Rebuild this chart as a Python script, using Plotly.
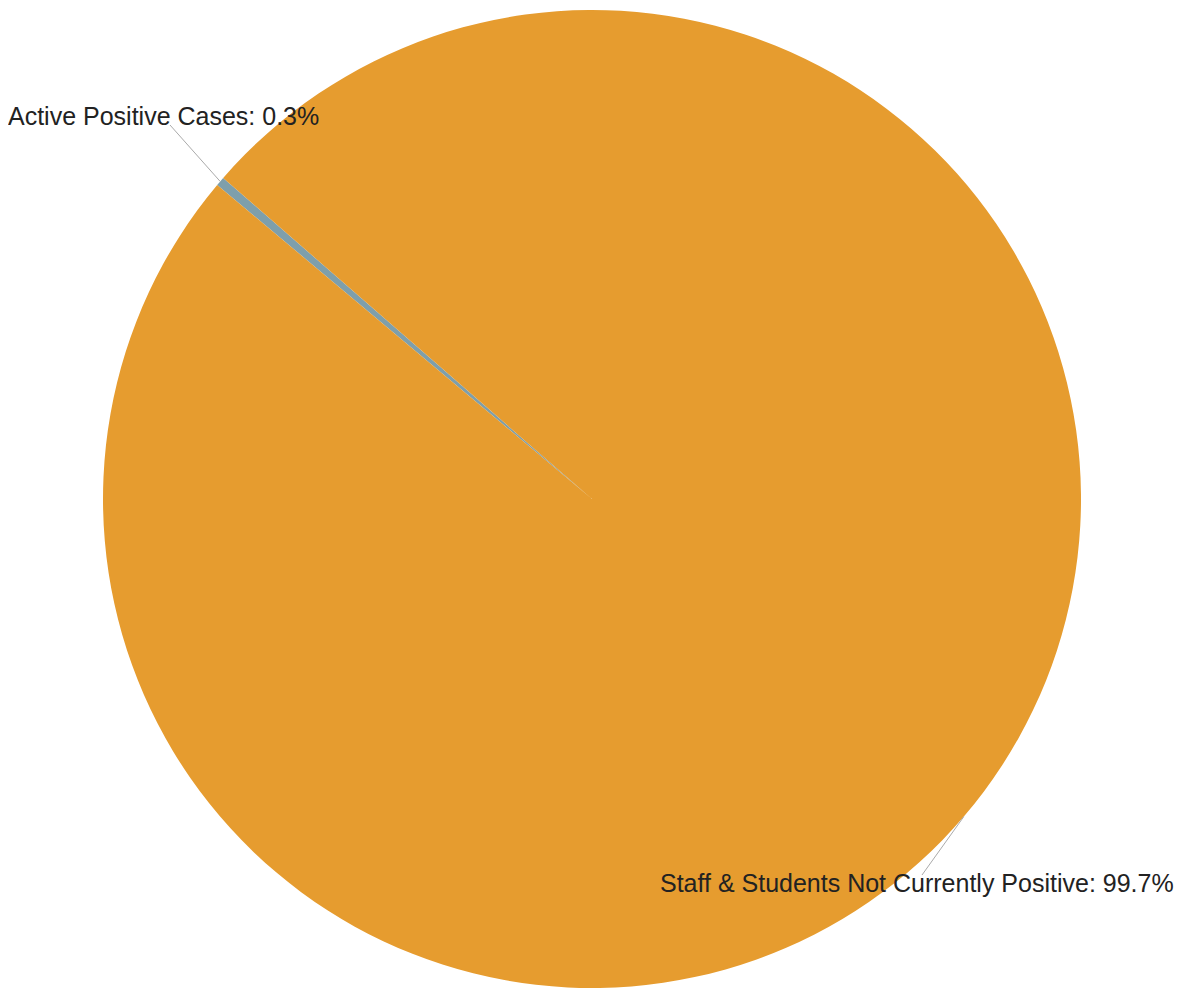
import math
import plotly.graph_objects as go

# ---- data ----
labels = ["Active Positive Cases", "Staff & Students Not Currently Positive"]
values = [0.3, 99.7]
colors = ["#7E9FAB", "#E69C2F"]

# ---- layout constants ----
W, H = 1175, 980          # page adds an 8px body margin
ML, MR, MT, MB = 0, 7, 2, 0
ROTATION = -50.04
FONT = "Liberation Sans, Arial, sans-serif"
FSIZE = 25

# label placement (figure pixels): text left, text middle, leader-line end near text
label_pos = [
    {"tx": -2, "ty": 108, "lx": 162, "ly": 117},
    {"tx": 650, "ty": 875, "lx": 914, "ly": 867},
]

PW, PH = W - ML - MR, H - MT - MB
cx, cy = ML + PW / 2, MT + PH / 2
R = min(PW, PH) / 2


def to_paper(px, py):
    return (px - ML) / PW, (H - MB - py) / PH


fig = go.Figure(
    go.Pie(
        labels=labels,
        values=values,
        marker=dict(colors=colors, line=dict(color="white", width=0)),
        sort=False,
        direction="clockwise",
        rotation=ROTATION,
        textinfo="none",
        hoverinfo="label+percent",
        domain=dict(x=[0, 1], y=[0, 1]),
    )
)

total = sum(values)
cum = 0.0
shapes = []
annotations = []
for lab, v, lp in zip(labels, values, label_pos):
    mid = math.radians(ROTATION + 360.0 * (cum + v / 2) / total)
    cum += v
    ex = cx + R * math.sin(mid)
    ey = cy - R * math.cos(mid)
    x0, y0 = to_paper(ex, ey)
    x1, y1 = to_paper(lp["lx"], lp["ly"])
    shapes.append(dict(type="line", xref="paper", yref="paper", x0=x0, y0=y0, x1=x1, y1=y1,
                       line=dict(color="#aaaaaa", width=1)))
    pct = 100.0 * v / total
    tx, ty = to_paper(lp["tx"], lp["ty"])
    annotations.append(dict(x=tx, y=ty, xref="paper", yref="paper", xanchor="left", yanchor="middle",
                            text=f"{lab}: {pct:.1f}%", showarrow=False,
                            font=dict(family=FONT, size=FSIZE, color="#222222")))

fig.update_layout(
    width=W,
    height=H,
    margin=dict(l=ML, r=MR, t=MT, b=MB, pad=0),
    showlegend=False,
    paper_bgcolor="white",
    plot_bgcolor="white",
    shapes=shapes,
    annotations=annotations,
)

fig.write_html("out.html")
